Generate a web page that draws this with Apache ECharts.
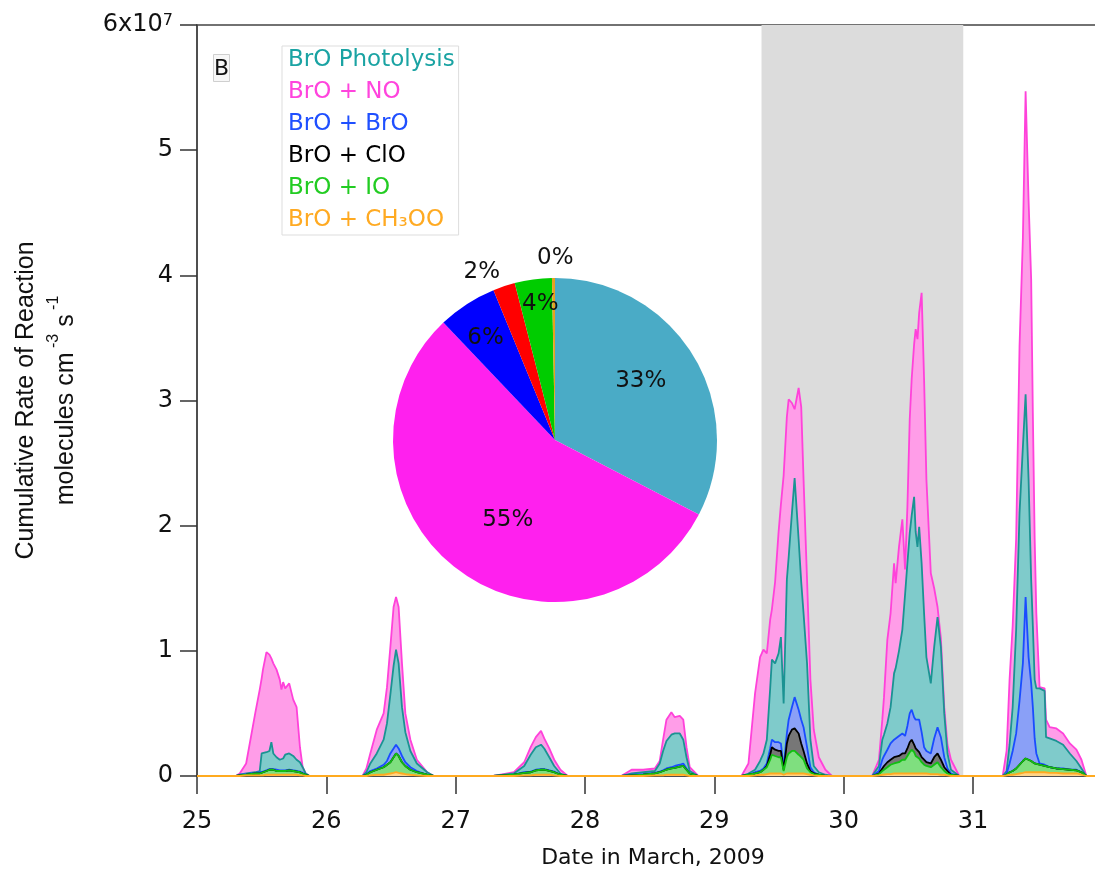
<!DOCTYPE html>
<html>
<head>
<meta charset="utf-8">
<script src="https://cdn.jsdelivr.net/npm/echarts@6/dist/echarts.min.js"></script>
<style>
  html, body { margin: 0; padding: 0; background: #fff; }
  #chart { width: 1095px; height: 873px; }
</style>
</head>
<body>
<div id="chart"></div>
<script>
// time stamps (day of March 2009), dense where the rates are non-zero
const days = [
  25.0,
  25.30, 25.33, 25.38, 25.45, 25.485, 25.50, 25.51, 25.537, 25.56, 25.575, 25.59, 25.615, 25.64, 25.653, 25.666, 25.682, 25.713, 25.744, 25.77, 25.796, 25.817, 25.84, 25.87,
  26.28, 26.31, 26.34, 26.39, 26.443, 26.469, 26.495, 26.52, 26.539, 26.559, 26.585, 26.611, 26.65, 26.70, 26.78, 26.83,
  27.29, 27.37, 27.45, 27.53, 27.58, 27.62, 27.66, 27.685, 27.724, 27.762, 27.81, 27.866,
  28.28, 28.36, 28.45, 28.54, 28.578, 28.604, 28.63, 28.668, 28.694, 28.733, 28.76, 28.785, 28.81, 28.876,
  29.21, 29.264, 29.315, 29.354, 29.38, 29.406, 29.432, 29.445, 29.47, 29.497, 29.515, 29.536, 29.561, 29.575, 29.60, 29.621, 29.652, 29.672, 29.69, 29.717, 29.743, 29.769, 29.808, 29.859, 29.91,
  30.22, 30.273, 30.299, 30.312, 30.338, 30.363, 30.39, 30.402, 30.428, 30.454, 30.475, 30.493, 30.511, 30.526, 30.545, 30.557, 30.571, 30.584, 30.603, 30.622, 30.64, 30.674, 30.70, 30.726, 30.752, 30.778, 30.803, 30.83, 30.894,
  31.23, 31.26, 31.283, 31.307, 31.334, 31.36, 31.386, 31.407, 31.43, 31.45, 31.463, 31.477, 31.49, 31.515, 31.554, 31.565, 31.593, 31.645, 31.697, 31.749, 31.80, 31.839, 31.877, 31.97
];

// rate of each reaction, x 1e7 molecules cm-3 s-1
const rateCH3OO = [
  0,
  0, 0, .005, .005, .005, .005, .005, .01, .01, .01, .01, .01, .01, .01, .01, .01, .01, .01, .01, .005, .005, 0, 0,
  0, 0, .005, .01, .01, .015, .02, .025, .03, .025, .02, .015, .01, .005, 0, 0,
  0, 0, 0, .005, .005, .01, .01, .01, .01, .005, 0, 0,
  0, 0, 0, .005, .005, .005, .01, .01, .01, .01, .01, .005, 0, 0,
  0, 0, .005, .01, .01, .015, .02, .02, .02, .02, .02, .01, .02, .02, .02, .02, .02, .02, .02, .015, .01, .005, 0, 0, 0,
  0, .005, .01, .01, .015, .015, .02, .02, .02, .02, .02, .02, .02, .02, .02, .02, .02, .02, .02, .02, .02, .015, .015, .015, .01, .01, .005, 0, 0,
  0, .005, .01, .01, .015, .02, .025, .03, .03, .03, .03, .03, .03, .03, .03, .025, .025, .025, .02, .02, .02, .01, 0, 0
];
const rateIO = [
  0,
  0, .005, .005, .015, .015, .02, .025, .03, .04, .05, .04, .03, .03, .03, .03, .03, .035, .03, .025, .025, .015, .01, 0,
  0, .01, .025, .04, .06, .075, .09, .125, .15, .135, .09, .065, .04, .025, .01, 0,
  0, .005, .01, .02, .025, .035, .04, .04, .03, .025, .01, 0,
  0, .005, .01, .015, .025, .035, .04, .05, .055, .065, .07, .045, .02, 0,
  0, .01, .015, .02, .04, .055, .11, .15, .14, .13, .13, .03, .13, .16, .18, .18, .15, .13, .11, .045, .02, .01, .01, 0, 0,
  0, .01, .03, .04, .055, .075, .08, .08, .09, .11, .11, .14, .17, .19, .17, .14, .13, .12, .09, .07, .06, .055, .075, .095, .06, .03, .015, .01, 0,
  0, .005, .02, .03, .045, .07, .095, .11, .10, .09, .08, .07, .07, .06, .05, .05, .045, .035, .035, .03, .025, .02, 0, 0
];
const rateClO = [
  0,
  0, 0, 0, 0, 0, 0, 0, 0, 0, 0, 0, 0, 0, 0, 0, 0, 0, 0, 0, 0, 0, 0, 0,
  0, 0, 0, 0, 0, 0, 0, 0, 0, 0, 0, 0, 0, 0, 0, 0,
  0, 0, 0, 0, 0, 0, 0, 0, 0, 0, 0, 0,
  0, 0, 0, 0, 0, 0, 0, 0, 0, 0, 0, 0, 0, 0,
  0, 0, 0, 0, 0, .01, .04, .06, .05, .05, .05, .01, .11, .14, .17, .18, .17, .11, .07, .04, .01, .005, 0, 0, 0,
  0, .005, .02, .03, .04, .04, .05, .05, .05, .05, .05, .06, .08, .08, .06, .06, .06, .05, .04, .04, .03, .03, .06, .07, .06, .03, .02, 0, 0,
  0, 0, 0, 0, 0, 0, 0, 0, 0, 0, 0, 0, 0, 0, 0, 0, 0, 0, 0, 0, 0, 0, 0, 0
];
const rateBrO = [
  0,
  0, .005, .005, .005, .01, .005, .005, .005, .005, .005, .005, .01, .005, .005, .005, .005, .005, .005, .005, .005, .005, 0, 0,
  0, .005, .01, .01, .02, .03, .07, .07, .07, .06, .05, .03, .02, .01, 0, 0,
  0, 0, 0, .005, .005, .005, .005, .005, .005, .005, 0, 0,
  0, .005, .005, .005, .005, .005, .01, .01, .015, .015, .02, .01, 0, 0,
  0, 0, .01, .01, .01, .02, .05, .06, .06, .07, .06, .01, .08, .13, .18, .25, .19, .19, .19, .13, .03, .01, 0, 0, 0,
  0, .02, .07, .08, .10, .13, .14, .15, .16, .16, .14, .18, .23, .24, .22, .23, .24, .26, .20, .10, .09, .08, .15, .21, .18, .08, .02, .01, 0,
  0, .01, .07, .16, .28, .51, .78, 1.29, .82, .62, .44, .20, .08, .01, .01, .005, 0, 0, .005, 0, .005, 0, 0, 0
];
const ratePhotolysis = [
  0,
  0, 0, .005, .005, .01, .15, .145, .145, .145, .205, .125, .10, .085, .075, .095, .125, .13, .115, .09, .075, .045, .01, 0,
  0, .015, .06, .12, .20, .30, .47, .66, .76, .68, .39, .24, .13, .06, .02, 0,
  0, .005, .01, .05, .135, .18, .195, .165, .105, .045, .01, 0,
  0, .01, .015, .015, .065, .155, .22, .26, .26, .25, .19, .09, .02, 0,
  0, .01, .02, .08, .12, .19, .48, .64, .63, .71, .85, .52, 1.23, 1.30, 1.55, 1.75, 1.36, 1.10, .91, .67, .22, .05, .02, .01, 0,
  0, .04, .16, .17, .21, .29, .53, .56, .68, .83, 1.13, 1.30, 1.44, 1.55, 1.76, 1.50, 1.38, 1.54, 1.35, 1.07, .75, .56, .73, .88, .72, .35, .12, .03, 0,
  0, .02, .15, .35, .83, 1.50, 1.73, 1.62, 1.42, .83, .65, .47, .52, .60, .59, .23, .23, .22, .19, .13, .07, .03, 0, 0
];
const rateNO = [
  0,
  0, .01, .08, .47, .65, .60, .67, .80, .77, .67, .72, .70, .64, .57, .61, .53, .56, .45, .42, .12, 0, 0, 0,
  0, .03, .08, .19, .21, .29, .38, .47, .42, .45, .35, .15, .09, .03, 0, 0,
  0, .005, .01, .03, .06, .08, .11, .08, .07, .05, .03, 0,
  0, .03, .02, .02, .02, .09, .17, .18, .13, .14, .16, .08, .03, 0,
  0, .08, .61, .83, .83, .69, .55, .40, .65, .97, 1.06, 1.82, 1.30, 1.26, .88, .55, 1.21, 1.40, 1.07, .67, .48, .29, .12, .04, 0,
  0, .05, .16, .30, .67, .75, .88, .68, .83, .88, .20, .45, .91, 1.09, 1.22, 1.62, 1.66, 1.71, 2.16, 1.87, 1.42, .88, .47, .08, .07, .05, .07, .08, 0,
  0, .16, .52, .65, .73, 1.33, 1.67, 2.42, 2.23, 2.40, 1.70, 1.13, .60, .01, .02, .14, .09, .10, .09, .08, .09, .07, 0, 0
];

// shaded period
const shadeBand = [29.365, 30.925];

// pie inset: share of each reaction (%)
const pieNames = ['BrO Photolysis', 'BrO + NO', 'BrO + BrO', 'BrO + ClO', 'BrO + IO', 'BrO + CH₃OO'];
const pieValues = [32.6, 55.3, 5.9, 2.2, 3.7, 0.3];

const FONT = 'DejaVu Sans';
const TITLE_FONT = 'Liberation Sans';

// bottom of the stack is the last one
const layers = [
  { name: 'BrO + NO', values: rateNO, line: '#ff42da', fill: '#ff9de8', legend: '#ff44dd' },
  { name: 'BrO Photolysis', values: ratePhotolysis, line: '#1b9393', fill: '#7fcbcb', legend: '#1aa3a3' },
  { name: 'BrO + BrO', values: rateBrO, line: '#1a4cff', fill: '#8aa0f7', legend: '#1f4fff' },
  { name: 'BrO + ClO', values: rateClO, line: '#000000', fill: '#777777', legend: '#000000' },
  { name: 'BrO + IO', values: rateIO, line: '#12bf12', fill: '#7fdf7f', legend: '#22cc22' },
  { name: 'BrO + CH₃OO', values: rateCH3OO, line: '#ffaa1f', fill: '#ffd488', legend: '#ffaa22' }
];
layers.forEach(l => { if (l.values.length !== days.length) console.error(l.name, l.values.length, days.length); });

// cumulative tops
const cum = layers.map(() => days.map(() => 0));
for (let k = layers.length - 1; k >= 0; k--) {
  for (let i = 0; i < days.length; i++) {
    cum[k][i] = layers[k].values[i] + (k < layers.length - 1 ? cum[k + 1][i] : 0);
  }
}

const areaSeries = layers.map((l, k) => ({
  name: l.name,
  type: 'line',
  symbol: 'none',
  smooth: false,
  data: days.map((d, i) => [d, +cum[k][i].toFixed(4)]),
  lineStyle: { color: l.line, width: 1.8 },
  itemStyle: { color: l.line },
  areaStyle: { color: l.fill, opacity: 1 },
  markArea: k === 0 ? {
    silent: true,
    itemStyle: { color: '#dcdcdc' },
    data: [[{ xAxis: shadeBand[0] }, { xAxis: shadeBand[1] }]]
  } : undefined
}));

const pieColors = ['#4aabc6', '#ff20ee', '#0000ff', '#ff0000', '#00cc00', '#e8a020'];
const pieCenter = [555, 440];
const pieLabelRadius = [105, 92, 124, 188, 139, 182];
const pieLabelShift = [[-4, -4], [8, 6], [-2, 2], [-14, 10], [4, 2], [2, 0]];

const legendOrder = ['BrO Photolysis', 'BrO + NO', 'BrO + BrO', 'BrO + ClO', 'BrO + IO', 'BrO + CH₃OO'];

const chart = echarts.init(document.getElementById('chart'));
chart.setOption({
  animation: false,
  backgroundColor: '#fff',
  title: {
    text: 'B',
    left: 213,
    top: 54,
    padding: [4, 1, 2, 1],
    borderColor: '#cfcfcf',
    borderWidth: 1,
    backgroundColor: '#f7f7f7',
    textStyle: { fontFamily: FONT, fontSize: 22, fontWeight: 'normal', color: '#111' }
  },
  legend: {
    orient: 'vertical',
    left: 282,
    top: 46,
    padding: [3, 4, 3, 0],
    itemWidth: 0,
    itemHeight: 0,
    itemGap: 9,
    backgroundColor: '#fff',
    borderColor: '#dddddd',
    borderWidth: 1,
    selectedMode: false,
    data: legendOrder.map(n => ({
      name: n,
      textStyle: { color: layers.find(l => l.name === n).legend }
    })),
    textStyle: { fontFamily: FONT, fontSize: 23, lineHeight: 23 }
  },
  grid: {
    left: 197,
    right: -6,
    top: 25,
    bottom: 97,
    outerBoundsMode: 'none',
    show: true,
    borderColor: '#444',
    borderWidth: 1.5
  },
  xAxis: {
    type: 'value',
    min: 25,
    max: 31.99,
    interval: 1,
    name: 'Date in March, 2009',
    nameLocation: 'middle',
    nameGap: 71,
    nameTextStyle: { fontFamily: FONT, fontSize: 22, color: '#111', padding: [0, 0, 0, 8] },
    axisLine: { lineStyle: { color: '#444', width: 1.5 } },
    axisTick: { length: 18, lineStyle: { color: '#333', width: 1.5 } },
    axisLabel: {
      margin: 34,
      fontFamily: FONT,
      fontSize: 24,
      color: '#111',
      showMaxLabel: false,
      formatter: v => Number.isInteger(v) ? String(v) : ''
    },
    splitLine: { show: false }
  },
  yAxis: {
    type: 'value',
    min: 0,
    max: 6,
    interval: 1,
    name: '{a|Cumulative Rate of Reaction}\n{a|molecules cm}{s| -3}{a| s}{s| -1}',
    nameLocation: 'middle',
    nameGap: 111,
    nameTextStyle: {
      color: '#111',
      rich: {
        a: { fontFamily: TITLE_FONT, fontSize: 25, lineHeight: 40, color: '#111' },
        s: { fontFamily: TITLE_FONT, fontSize: 16, lineHeight: 16, verticalAlign: 'top', color: '#111' }
      }
    },
    axisLine: { lineStyle: { color: '#444', width: 1.5 } },
    axisTick: { length: 17, lineStyle: { color: '#333', width: 1.5 } },
    axisLabel: {
      margin: 24,
      fontFamily: FONT,
      fontSize: 24,
      color: '#111',
      formatter: v => v === 6 ? '6x10{sup|7}' : String(v),
      rich: {
        sup: { fontFamily: FONT, fontSize: 16, lineHeight: 16, verticalAlign: 'top', color: '#111' }
      }
    },
    splitLine: { show: false }
  },
  series: areaSeries.concat([{
    type: 'pie',
    z: 10,
    center: pieCenter,
    radius: 162,
    startAngle: 90,
    clockwise: true,
    avoidLabelOverlap: false,
    data: pieNames.map((n, i) => ({ name: n, value: pieValues[i], itemStyle: { color: pieColors[i] } })),
    label: {
      position: 'inside',
      fontFamily: FONT,
      fontSize: 23,
      color: '#111',
      formatter: p => Math.round(p.value) + '%'
    },
    labelLine: { show: false },
    labelLayout: p => {
      const r = p.labelRect;
      const dx = r.x + r.width / 2 - pieCenter[0];
      const dy = r.y + r.height / 2 - pieCenter[1];
      const len = Math.hypot(dx, dy) || 1;
      const R = pieLabelRadius[p.dataIndex];
      const s = pieLabelShift[p.dataIndex];
      return {
        x: pieCenter[0] + dx / len * R + s[0],
        y: pieCenter[1] + dy / len * R + s[1],
        align: 'center',
        verticalAlign: 'middle'
      };
    },
    emphasis: { disabled: true }
  }])
});
</script>
</body>
</html>
